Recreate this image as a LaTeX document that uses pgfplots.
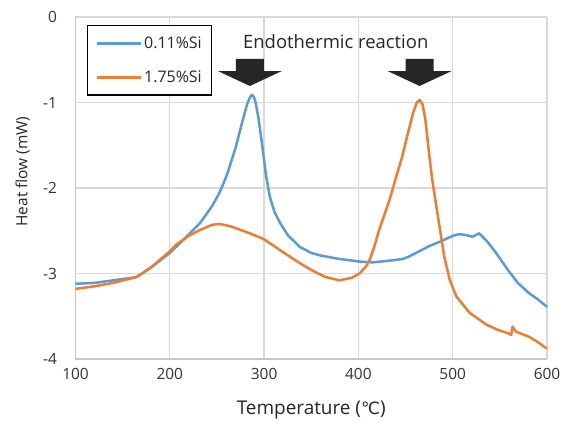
\documentclass[border=0pt]{standalone}
\usepackage{pgfplots}
\pgfplotsset{compat=1.18}
\usepackage{fontspec}
\setmainfont{Open Sans}
\newfontfamily\dejavu{DejaVu Sans}
\definecolor{xlblue}{HTML}{5B9BD5}
\definecolor{xlorange}{HTML}{ED7D31}
\definecolor{gridgray}{HTML}{D9D9D9}
\begin{document}
\begin{tikzpicture}
\path[use as bounding box] (-75.5bp,-67bp) rectangle (492.5bp,359bp);
\begin{axis}[
    scale only axis,
    width=471.5bp, height=342bp,
    xmin=100, xmax=600, ymin=-4, ymax=0,
    xtick={100,200,...,600},
    ytick={-4,-3,-2,-1,0},
    grid=major,
    major grid style={gridgray, line width=1.3bp},
    axis line style={gridgray!80!gray, line width=1.3bp},
    axis lines*=left,
    major tick length=0pt,
    /pgf/number format/assume math mode=true,
    tick label style={font=\fontsize{15.5}{18}\selectfont, text=black!80},
    xticklabel style={yshift=-6bp},
    yticklabel style={xshift=-15bp},
    xlabel={Temperature ({\dejavu\fontsize{17}{19}\selectfont ℃})},
    ylabel={Heat flow (mW)},
    label style={text=black!85},
    xlabel style={font=\fontsize{19}{22}\selectfont, at={(axis description cs:0.5,-0.149)}, anchor=center},
    ylabel style={font=\fontsize{15.5}{18}\selectfont, at={(axis description cs:-0.112,0.548)}, anchor=center},
    legend style={at={(axis description cs:0.0244,0.9766)}, anchor=north west,
        draw=black, line width=1.4bp, fill=white,
        font=\fontsize{16}{19}\selectfont, text=black!85,
        row sep=17bp, inner xsep=8bp, inner ysep=9bp},
    legend cell align=left,
    legend image code/.code={\draw[#1, line width=2.5bp] (0bp,0bp) -- (44bp,0bp);},
    clip=false,
]
\addplot[xlblue, line width=2.5bp, line join=round] coordinates {
(100,-3.12) (120,-3.11) (140,-3.08) (160,-3.05) (165,-3.04) (180,-2.93)
(200,-2.76) (215,-2.60) (232,-2.41) (245,-2.21) (252,-2.07) (256,-1.97)
(259,-1.89) (262,-1.80) (270,-1.52) (277,-1.22) (282,-1.02) (285,-0.94)
(287,-0.91) (289,-0.93) (291,-1.00) (294,-1.18) (298,-1.50) (302,-1.85)
(306,-2.10) (311,-2.28) (317,-2.41) (325,-2.55) (338,-2.69) (350,-2.76)
(360,-2.79) (380,-2.83) (401,-2.86) (415,-2.87) (433,-2.85) (447,-2.83)
(454,-2.80) (461,-2.76) (475,-2.68) (486,-2.63) (500,-2.56) (507,-2.54)
(514,-2.55) (521,-2.57) (528,-2.53) (537,-2.63) (546,-2.76) (558,-2.95)
(569,-3.11) (581,-3.23) (590,-3.30) (600,-3.39)
};
\addlegendentry{0.11\%Si}
\addplot[xlorange, line width=2.5bp, line join=round] coordinates {
(100,-3.18) (120,-3.15) (140,-3.11) (165,-3.04) (180,-2.93) (200,-2.74)
(207,-2.66) (220,-2.56) (232,-2.49) (245,-2.43) (253,-2.42) (265,-2.45)
(285,-2.53) (300,-2.60) (320,-2.75) (338,-2.88) (352,-2.97) (365,-3.04)
(380,-3.08) (393,-3.05) (401,-3.00) (408,-2.92) (412,-2.84) (417,-2.68)
(422,-2.49) (428,-2.30) (433,-2.14) (440,-1.87) (446,-1.65) (452,-1.38)
(458,-1.12) (462,-1.00) (465,-0.97) (468,-1.02) (471,-1.20) (475,-1.60)
(478,-1.88) (481,-2.10) (486,-2.45) (491,-2.80) (497,-3.08) (504,-3.27)
(518,-3.46) (536,-3.60) (548,-3.66) (559,-3.70) (562,-3.72) (563.5,-3.62)
(567,-3.68) (581,-3.74) (590,-3.80) (600,-3.88)
};
\addlegendentry{1.75\%Si}
% arrows marking the endothermic peaks
\fill[black!85] (axis cs:270.1,-0.491) -- (axis cs:299.7,-0.491) -- (axis cs:299.7,-0.632)
  -- (axis cs:318.8,-0.632) -- (axis cs:284.9,-0.807) -- (axis cs:251.0,-0.632)
  -- (axis cs:270.1,-0.632) -- cycle;
\fill[black!85] (axis cs:450.1,-0.491) -- (axis cs:479.7,-0.491) -- (axis cs:479.7,-0.632)
  -- (axis cs:498.8,-0.632) -- (axis cs:464.9,-0.807) -- (axis cs:431.0,-0.632)
  -- (axis cs:450.1,-0.632) -- cycle;
\node[font=\fontsize{18.5}{21}\selectfont, text=black!85] at (axis cs:376,-0.29) {Endothermic reaction};
\end{axis}
\end{tikzpicture}
\end{document}
